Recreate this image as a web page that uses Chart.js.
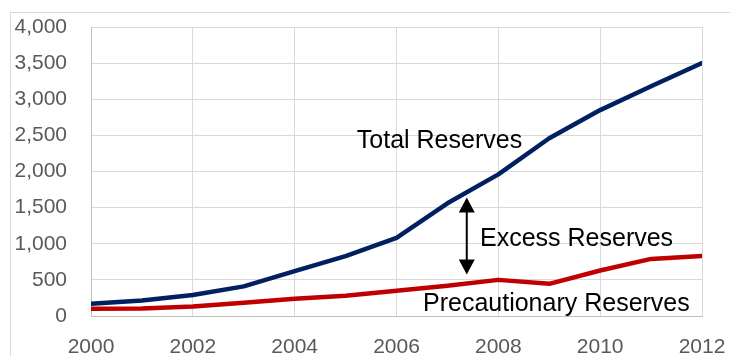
<!DOCTYPE html>
<html>
<head>
<meta charset="utf-8">
<script src="https://cdn.jsdelivr.net/npm/chart.js@4/dist/chart.umd.min.js"></script>
<style>
  html, body { margin: 0; padding: 0; background: #fff; overflow: hidden; }
  #wrap { position: relative; width: 730px; height: 372px; }
  #frame { position: absolute; left: 10px; top: 12px; width: 740px; height: 400px; border: 1px solid #d9d9d9; box-sizing: border-box; }
  canvas { position: absolute; left: 0; top: 0; }
</style>
</head>
<body>
<div id="wrap">
  <div id="frame"></div>
  <canvas id="chart" width="730" height="372"></canvas>
</div>
<script>
const years = [2000, 2001, 2002, 2003, 2004, 2005, 2006, 2007, 2008, 2009, 2010, 2011, 2012];
const totalReserves = [170, 215, 290, 410, 620, 830, 1080, 1560, 1960, 2460, 2850, 3180, 3500];
const precautionaryReserves = [100, 105, 130, 185, 240, 280, 350, 420, 500, 445, 630, 790, 830];

// text labels and the excess-reserves arrow, placed in data units
const notes = [
  { text: 'Total Reserves', year: 2005.22, value: 2322 },
  { text: 'Excess Reserves', year: 2007.64, value: 964 },
  { text: 'Precautionary Reserves', year: 2006.52, value: 67 }
];
const arrow = { year: 2007.38, from: 575, to: 1639 };

const toPoints = (vals) => vals.map((v, i) => ({ x: years[i], y: v }));

const notesPlugin = {
  id: 'notes',
  afterDatasetsDraw(chart) {
    const { ctx, scales: { x, y } } = chart;
    ctx.save();
    ctx.fillStyle = '#000';
    ctx.font = '25px "Liberation Sans", Arial, sans-serif';
    ctx.textAlign = 'left';
    ctx.textBaseline = 'alphabetic';
    notes.forEach(n => ctx.fillText(n.text, x.getPixelForValue(n.year), y.getPixelForValue(n.value)));

    const ax = x.getPixelForValue(arrow.year);
    const yTop = y.getPixelForValue(arrow.to);
    const yBot = y.getPixelForValue(arrow.from);
    const head = 15, half = 8;
    ctx.strokeStyle = '#000';
    ctx.lineWidth = 2;
    ctx.beginPath();
    ctx.moveTo(ax, yTop + head - 1);
    ctx.lineTo(ax, yBot - head + 1);
    ctx.stroke();
    ctx.beginPath();
    ctx.moveTo(ax, yTop);
    ctx.lineTo(ax - half, yTop + head);
    ctx.lineTo(ax + half, yTop + head);
    ctx.closePath();
    ctx.moveTo(ax, yBot);
    ctx.lineTo(ax - half, yBot - head);
    ctx.lineTo(ax + half, yBot - head);
    ctx.closePath();
    ctx.fill();
    ctx.restore();
  }
};

const tickFont = { family: '"Liberation Sans", Arial, sans-serif', size: 21 };

new Chart(document.getElementById('chart').getContext('2d'), {
  type: 'line',
  data: {
    datasets: [
      {
        label: 'Total Reserves',
        data: toPoints(totalReserves),
        borderColor: '#002060',
        borderWidth: 4.5,
        pointRadius: 0,
        tension: 0,
        borderJoinStyle: 'round',
        borderCapStyle: 'round'
      },
      {
        label: 'Precautionary Reserves',
        data: toPoints(precautionaryReserves),
        borderColor: '#C00000',
        borderWidth: 4.5,
        pointRadius: 0,
        tension: 0,
        borderJoinStyle: 'round',
        borderCapStyle: 'round'
      }
    ]
  },
  options: {
    responsive: false,
    animation: false,
    layout: { padding: { top: 27, right: 28, left: 0, bottom: 0 } },
    plugins: {
      legend: { display: false },
      tooltip: { enabled: false }
    },
    scales: {
      x: {
        type: 'linear',
        min: 2000,
        max: 2012,
        afterFit: (s) => { s.height = 56; s.paddingLeft = 0; s.paddingRight = 0; },
        ticks: {
          stepSize: 2,
          color: '#595959',
          font: tickFont,
          padding: 19,
          callback: (v) => String(v)
        },
        grid: { color: '#d9d9d9', lineWidth: 1, drawTicks: false },
        border: { color: '#bfbfbf', width: 1 }
      },
      y: {
        min: 0,
        max: 4000,
        afterFit: (s) => { s.width = 91; s.paddingTop = 0; s.paddingBottom = 0; },
        ticks: {
          stepSize: 500,
          color: '#595959',
          font: tickFont,
          padding: 24,
          callback: (v) => v.toLocaleString('en-US')
        },
        grid: { color: '#d9d9d9', lineWidth: 1, drawTicks: false },
        border: { color: '#bfbfbf', width: 1 }
      }
    }
  },
  plugins: [notesPlugin]
});
</script>
</body>
</html>
